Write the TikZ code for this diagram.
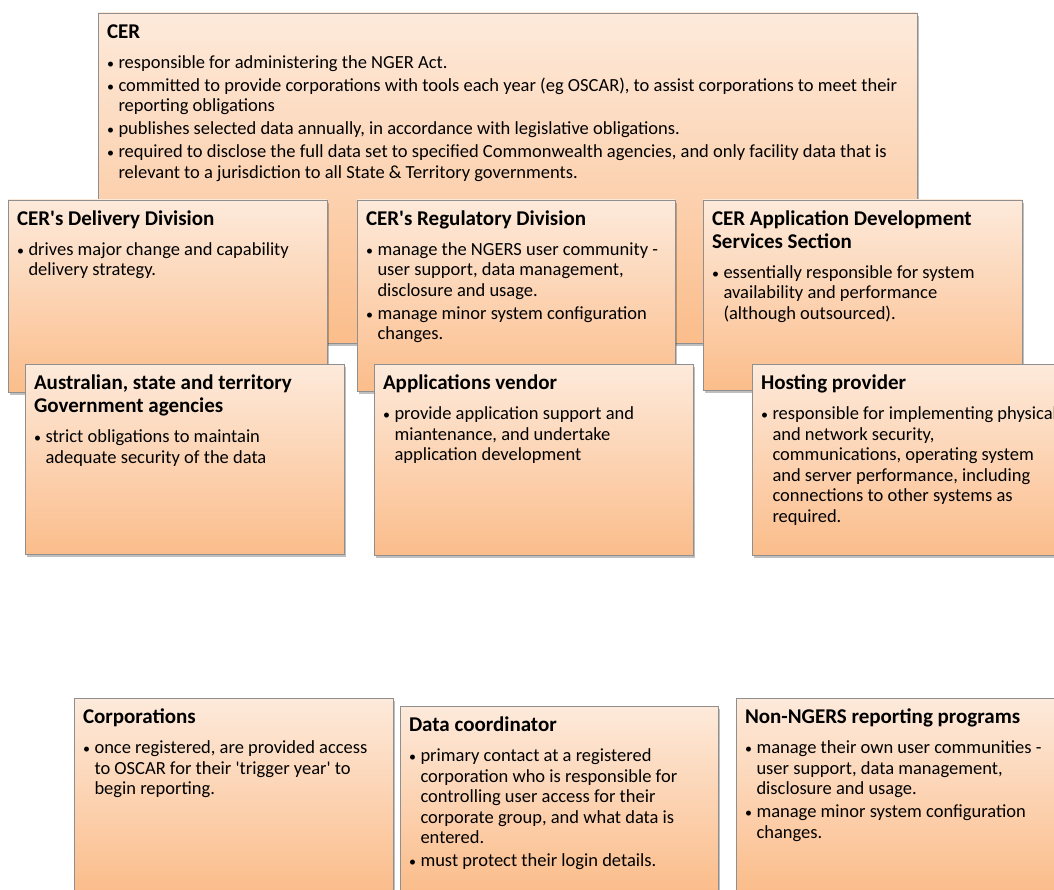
\documentclass[tikz,border=0pt]{standalone}
\usepackage{fontspec}
\setmainfont{Carlito}
\usetikzlibrary{shadows}

\definecolor{peachtop}{HTML}{FDEADB}
\definecolor{peachbot}{HTML}{FBBD8B}
\definecolor{cardedge}{HTML}{8F8F8F}

% box content: width, height, heading, bullets
\newcommand{\card}[4]{\parbox[t][\dimexpr#2pt-16pt][t]{\dimexpr#1pt-18pt}{%
  \raggedright\setlength{\parskip}{2.5pt}\fontsize{18.5}{20.5}\selectfont
  {\fontsize{21}{23}\selectfont\bfseries\rule{0pt}{17.5pt}#3\par}\vspace{7pt}#4}}
\newcommand{\blt}{\par\hangindent=11.5pt\hangafter=1\noindent
  \makebox[11.5pt][l]{\fontsize{14}{14}\selectfont\textbullet}}

\tikzset{
  card/.style={draw=cardedge, top color=peachtop, bottom color=peachbot,
    anchor=north west, inner xsep=9pt, inner ysep=8pt, outer sep=0pt,
    drop shadow={shadow xshift=2pt, shadow yshift=-3pt, opacity=0.25, fill=black}}
}

\begin{document}
\begin{tikzpicture}[x=1pt, y=-1pt]
  \clip (0,0) rectangle (1054,890);

  % top level
  \node[card] (cer) at (98,13) {\card{819}{330}{CER}{%
    \blt responsible for administering the NGER Act.
    \blt committed to provide corporations with tools each year (eg OSCAR), to assist corporations to meet their\newline reporting obligations
    \blt publishes selected data annually, in accordance with legislative obligations.
    \blt required to disclose the full data set to specified Commonwealth agencies, and only facility data that is\newline relevant to a jurisdiction to all State \& Territory governments.}};

  % CER divisions
  \node[card] (deliv) at (8,200) {\card{319}{192}{CER\textquotesingle s Delivery Division}{%
    \blt drives major change and capability\newline delivery strategy.}};
  \node[card] (regul) at (357,200) {\card{318}{191}{CER\textquotesingle s Regulatory Division}{%
    \blt manage the NGERS user community -\newline user support, data management,\newline disclosure and usage.
    \blt manage minor system configuration\newline changes.}};
  \node[card] (appdev) at (703,200) {\card{319}{190}{CER Application Development\newline Services Section}{%
    \blt essentially responsible for system\newline availability and performance\newline (although outsourced).}};

  % external parties
  \node[card] (govt) at (25,364) {\card{319}{190}{Australian, state and territory\newline Government agencies}{%
    \blt strict obligations to maintain\newline adequate security of the data}};
  \node[card] (vendor) at (374,364) {\card{319}{191}{Applications vendor}{%
    \blt provide application support and\newline miantenance, and undertake\newline application development}};
  \node[card] (host) at (752,364) {\card{319}{191}{Hosting provider}{%
    \blt responsible for implementing physical\newline and network security,\newline communications, operating system\newline and server performance, including\newline connections to other systems as\newline required.}};

  % reporting side
  \node[card] (corp) at (74,698) {\card{319}{192}{Corporations}{%
    \blt once registered, are provided access\newline to OSCAR for their \textquotesingle trigger year\textquotesingle\ to\newline begin reporting.}};
  \node[card] (datac) at (400,706) {\card{318}{184}{Data coordinator}{%
    \blt primary contact at a registered\newline corporation who is responsible for\newline controlling user access for their\newline corporate group, and what data is\newline entered.
    \blt must protect their login details.}};
  \node[card] (other) at (736,698) {\card{319}{192}{Non-NGERS reporting programs}{%
    \blt manage their own user communities -\newline user support, data management,\newline disclosure and usage.
    \blt manage minor system configuration\newline changes.}};
\end{tikzpicture}
\end{document}
